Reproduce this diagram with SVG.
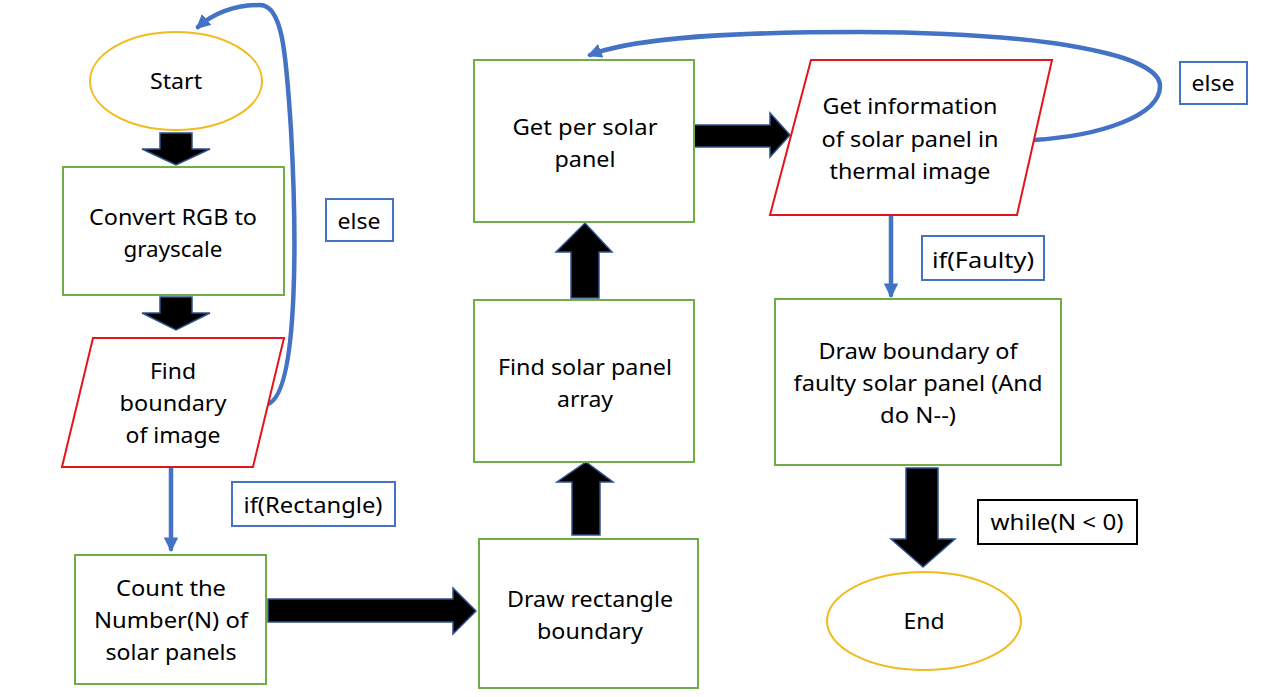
<svg xmlns="http://www.w3.org/2000/svg" width="1268" height="697" viewBox="0 0 1268 697">
<style>
.bg{fill:#fff}
.proc{fill:#fff;stroke:#70AD47;stroke-width:2}
.io{fill:#fff;stroke:#E3141B;stroke-width:2}
.term{fill:#fff;stroke:#F2BA1D;stroke-width:2}
.lbl{fill:#fff;stroke:#4472C4;stroke-width:2}
.lblk{fill:#fff;stroke:#000;stroke-width:2}
.big{fill:#000;stroke:#2F528F;stroke-width:1.5;stroke-linejoin:miter}
.blue{fill:none;stroke:#4472C4;stroke-width:4.5;stroke-linecap:round}
text{font-family:"Noto Sans","Open Sans","DejaVu Sans",sans-serif;font-size:22px;fill:#000;text-anchor:middle}
</style>
<defs>
<marker id="ah" viewBox="0 0 10 10" refX="8" refY="5" markerWidth="3.2" markerHeight="3.2" orient="auto" markerUnits="strokeWidth">
<path d="M0,0 L10,5 L0,10 z" fill="#4472C4"/>
</marker>
</defs>
<rect class="bg" x="0" y="0" width="1268" height="697"/>

<g id="connectors">
<path class="big" d="M160,133 H192 V149 H210 L176,165 L142,149 H160 Z"/>
<path class="big" d="M160,297 H192 V313 H210 L176,330 L142,313 H160 Z"/>
<path class="blue" marker-end="url(#ah)" d="M268,404 C300,392 296,220 291,130 C286,50 282,5 260,5 C236,5 214,13 198,27"/>
<path class="blue" marker-end="url(#ah)" d="M171,467 V549"/>
<path class="big" d="M268,599 H453 V588 L476,611 L453,634 V622 H268 Z"/>
<path class="big" d="M572,535 V482 H557 L586,462 L613,482 H600 V535 Z"/>
<path class="big" d="M571,298 V252 H556 L585,223 L612,252 H599 V298 Z"/>
<path class="big" d="M694,125 H770 V113 L790,135 L770,157 V147 H694 Z"/>
<path class="blue" marker-end="url(#ah)" d="M1033,140 C1100,136 1160,116 1160,86 C1160,55 1050,33 860,32 C700,32 625,41 590,55"/>
<path class="blue" marker-end="url(#ah)" d="M891,216 V295"/>
<path class="big" d="M906,468 H938 V539 H955 L923,567 L891,539 H906 Z"/>
</g>

<g id="start">
<ellipse class="term" cx="176" cy="81" rx="86" ry="49"/>
<text x="176" y="89" textLength="52" lengthAdjust="spacingAndGlyphs">Start</text>
</g>
<g id="convert">
<rect class="proc" x="63" y="167" width="221" height="128"/>
<text x="173" y="225" textLength="168" lengthAdjust="spacingAndGlyphs">Convert RGB to</text>
<text x="173" y="257" textLength="99" lengthAdjust="spacingAndGlyphs">grayscale</text>
</g>
<g id="find-boundary">
<polygon class="io" points="93,338 284,338 253,467 62,467"/>
<text x="173" y="379" textLength="46" lengthAdjust="spacingAndGlyphs">Find</text>
<text x="173" y="411" textLength="107" lengthAdjust="spacingAndGlyphs">boundary</text>
<text x="173" y="443" textLength="95" lengthAdjust="spacingAndGlyphs">of image</text>
</g>
<g id="else1">
<rect class="lbl" x="326" y="199" width="67" height="42"/>
<text x="359" y="229" textLength="43" lengthAdjust="spacingAndGlyphs">else</text>
</g>
<g id="if-rect">
<rect class="lbl" x="232" y="482" width="163" height="44"/>
<text x="313" y="513" textLength="139" lengthAdjust="spacingAndGlyphs">if(Rectangle)</text>
</g>
<g id="count">
<rect class="proc" x="75" y="555" width="191" height="129"/>
<text x="171" y="596" textLength="110" lengthAdjust="spacingAndGlyphs">Count the</text>
<text x="171" y="628" textLength="154" lengthAdjust="spacingAndGlyphs">Number(N) of</text>
<text x="171" y="660" textLength="131" lengthAdjust="spacingAndGlyphs">solar panels</text>
</g>
<g id="draw-rect">
<rect class="proc" x="479" y="539" width="219" height="149"/>
<text x="590" y="607" textLength="166" lengthAdjust="spacingAndGlyphs">Draw rectangle</text>
<text x="590" y="639" textLength="106" lengthAdjust="spacingAndGlyphs">boundary</text>
</g>
<g id="find-array">
<rect class="proc" x="474" y="300" width="220" height="162"/>
<text x="585" y="375" textLength="174" lengthAdjust="spacingAndGlyphs">Find solar panel</text>
<text x="585" y="407" textLength="56" lengthAdjust="spacingAndGlyphs">array</text>
</g>
<g id="get-per">
<rect class="proc" x="474" y="60" width="220" height="162"/>
<text x="585" y="135" textLength="145" lengthAdjust="spacingAndGlyphs">Get per solar</text>
<text x="585" y="167" textLength="61" lengthAdjust="spacingAndGlyphs">panel</text>
</g>
<g id="get-info">
<polygon class="io" points="811,60 1052,60 1017,215 770,215"/>
<text x="910" y="114" textLength="175" lengthAdjust="spacingAndGlyphs">Get information</text>
<text x="910" y="147" textLength="177" lengthAdjust="spacingAndGlyphs">of solar panel in</text>
<text x="910" y="179" textLength="161" lengthAdjust="spacingAndGlyphs">thermal image</text>
</g>
<g id="else2">
<rect class="lbl" x="1180" y="62" width="67" height="42"/>
<text x="1213" y="91" textLength="43" lengthAdjust="spacingAndGlyphs">else</text>
</g>
<g id="if-faulty">
<rect class="lbl" x="922" y="236" width="122" height="44"/>
<text x="983" y="268" textLength="102" lengthAdjust="spacingAndGlyphs">if(Faulty)</text>
</g>
<g id="draw-faulty">
<rect class="proc" x="775" y="299" width="286" height="166"/>
<text x="918" y="359" textLength="199" lengthAdjust="spacingAndGlyphs">Draw boundary of</text>
<text x="918" y="391" textLength="249" lengthAdjust="spacingAndGlyphs">faulty solar panel (And</text>
<text x="918" y="423" textLength="76" lengthAdjust="spacingAndGlyphs">do N--)</text>
</g>
<g id="while">
<rect class="lblk" x="978" y="500" width="159" height="44"/>
<text x="1057" y="530" textLength="133" lengthAdjust="spacingAndGlyphs">while(N &lt; 0)</text>
</g>
<g id="end">
<ellipse class="term" cx="924" cy="621" rx="97" ry="49"/>
<text x="924" y="629" textLength="41" lengthAdjust="spacingAndGlyphs">End</text>
</g>
</svg>
